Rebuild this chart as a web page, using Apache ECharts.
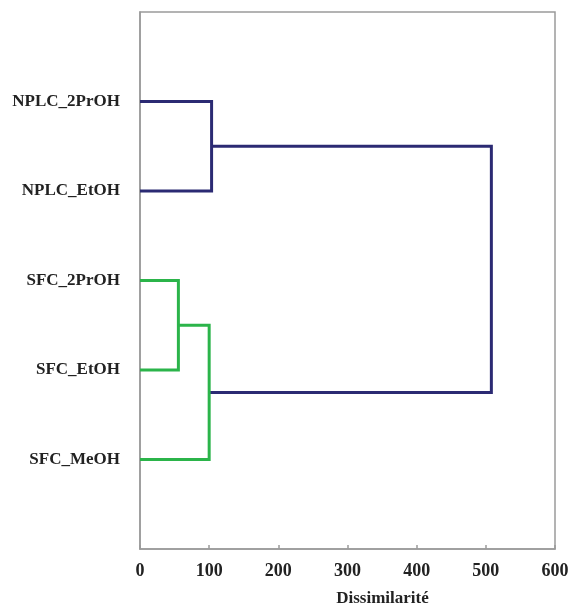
<!DOCTYPE html>
<html>
<head>
<meta charset="utf-8">
<script src="https://cdn.jsdelivr.net/npm/echarts@6/dist/echarts.min.js"></script>
<style>html,body{margin:0;padding:0;background:#fff;}#chart{width:570px;height:603px;}</style>
</head>
<body>
<div id="chart"></div>
<script>
// Leaves (top to bottom)
const leaves = ['NPLC_2PrOH', 'NPLC_EtOH', 'SFC_2PrOH', 'SFC_EtOH', 'SFC_MeOH'];
// Merges: children are leaf indices (0..4) or previous merges ('m0', 'm1', ...)
const mergeLeft   = [0, 2, 'm1', 'm0'];
const mergeRight  = [1, 3, 4, 'm2'];
const mergeHeight = [103.5, 55.5, 100, 508];
const mergeColor  = ['#2b2a73', '#2bb44a', '#2bb44a', '#2b2a73'];
const xTicks = [0, 100, 200, 300, 400, 500, 600];

// Positions of nodes
function nodePos(n, merges) {
  if (typeof n === 'number') return { h: 0, y: n + 1 };
  return merges[parseInt(n.slice(1), 10)];
}
const merges = [];
const series = [];
for (let i = 0; i < mergeHeight.length; i++) {
  const l = nodePos(mergeLeft[i], merges);
  const r = nodePos(mergeRight[i], merges);
  const H = mergeHeight[i];
  merges.push({ h: H, y: (l.y + r.y) / 2 });
  series.push({
    type: 'line',
    data: [[l.h, l.y], [H, l.y], [H, r.y], [r.h, r.y]],
    symbol: 'none',
    lineStyle: { color: mergeColor[i], width: 3, join: 'miter', cap: 'butt' },
    z: i === 3 ? 1 : 2,
    animation: false
  });
}

const chart = echarts.init(document.getElementById('chart'), null, { renderer: 'canvas' });
chart.setOption({
  backgroundColor: '#fff',
  animation: false,
  grid: { left: 140, right: 15, top: 12, bottom: 54, show: true, borderColor: '#9a9a9a', borderWidth: 1.5, containLabel: false, outerBoundsMode: 'none' },
  xAxis: {
    type: 'value', min: xTicks[0], max: xTicks[xTicks.length - 1], interval: 100,
    name: 'Dissimilarité', nameLocation: 'middle', nameGap: 41,
    nameTextStyle: { fontFamily: 'Liberation Serif', fontWeight: 'bold', fontSize: 17, color: '#222', padding: [0, 0, 0, 70] },
    axisLine: { show: true, onZero: false, lineStyle: { color: '#9a9a9a', width: 1.5 } },
    axisTick: { show: true, inside: true, length: 4, lineStyle: { color: '#9a9a9a', width: 1.5 } },
    axisLabel: { margin: 13, fontFamily: 'Liberation Serif', fontWeight: 'bold', fontSize: 18, color: '#222' },
    splitLine: { show: false }
  },
  yAxis: {
    type: 'value', min: 0, max: 6, interval: 1, inverse: true,
    axisLine: { show: true, onZero: false, lineStyle: { color: '#9a9a9a', width: 1.5 } },
    axisTick: { show: false },
    axisLabel: {
      margin: 20, fontFamily: 'Liberation Serif', fontWeight: 'bold', fontSize: 17, color: '#222',
      formatter: function (v) { return (v >= 1 && v <= leaves.length) ? leaves[v - 1] : ''; }
    },
    splitLine: { show: false }
  },
  series: series
});
</script>
</body>
</html>
